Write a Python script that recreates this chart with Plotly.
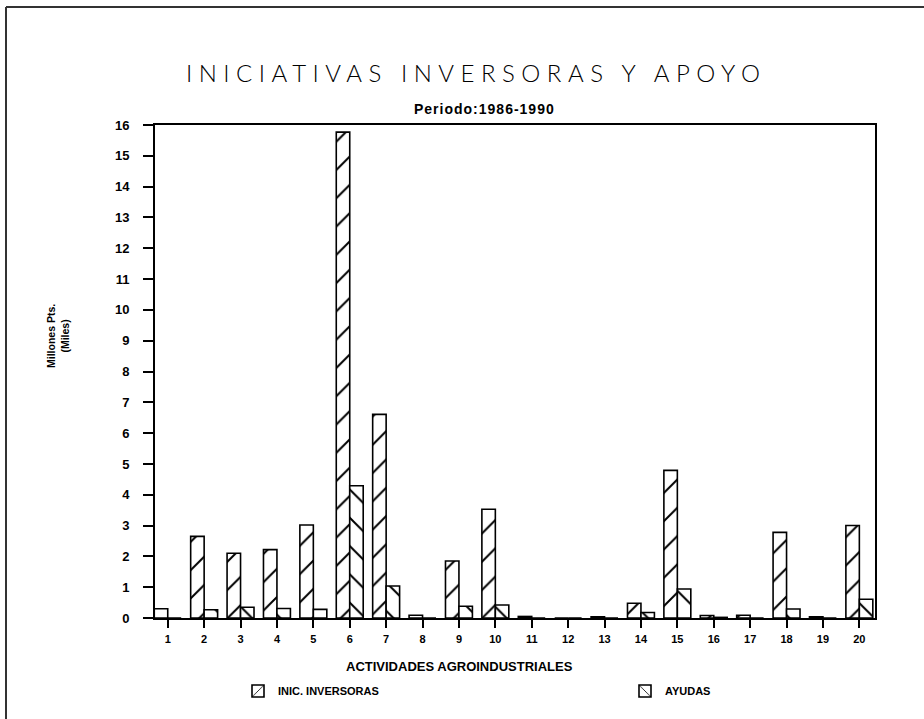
import plotly.graph_objects as go

categories = list(range(1, 21))
inic_inversoras = [0.30, 2.65, 2.10, 2.22, 3.02, 15.77, 6.61, 0.09, 1.85, 3.53,
                   0.05, 0.0, 0.04, 0.48, 4.79, 0.08, 0.09, 2.78, 0.04, 3.00]
ayudas = [0.0, 0.27, 0.35, 0.31, 0.28, 4.29, 1.04, 0.0, 0.38, 0.42,
          0.0, 0.0, 0.0, 0.18, 0.94, 0.02, 0.0, 0.29, 0.0, 0.61]
y_ticks = list(range(0, 17))

W, H = 924, 719
L, R, T, B = 155, 49, 125, 101
pw, ph = W - L - R, H - T - B


def px(x):
    return (x - L) / pw


def py(y):
    return (H - B - y) / ph


fig = go.Figure()
fig.add_trace(go.Bar(
    x=categories, y=inic_inversoras, name="INIC. INVERSORAS",
    marker=dict(color="white", line=dict(color="black", width=1.6),
                pattern=dict(shape="/", fgcolor="black", bgcolor="white",
                             size=20, solidity=0.1, fillmode="replace")),
    legend="legend",
))
fig.add_trace(go.Bar(
    x=categories, y=ayudas, name="AYUDAS",
    marker=dict(color="white", line=dict(color="black", width=1.6),
                pattern=dict(shape="\\", fgcolor="black", bgcolor="white",
                             size=20, solidity=0.1, fillmode="replace")),
    legend="legend2",
))

tick_font = dict(family="Liberation Sans, Arial", size=13, color="black", weight="bold")
legend_font = dict(family="Liberation Sans, Arial", size=11, color="black", weight="bold")

fig.update_layout(
    width=W, height=H,
    margin=dict(l=L, r=R, t=T, b=B),
    paper_bgcolor="white", plot_bgcolor="white",
    barmode="group", bargap=0.26, bargroupgap=0.0,
    xaxis=dict(range=[0.65, 20.43], tickvals=categories,
               ticktext=[str(c) for c in categories],
               showgrid=False, zeroline=False,
               showline=True, linecolor="black", linewidth=2, mirror=True,
               ticks="outside", ticklen=8, tickwidth=1.5, tickcolor="black",
               ticklabelstandoff=2,
               tickfont=dict(family="Liberation Sans, Arial", size=11,
                             color="black", weight="bold")),
    yaxis=dict(range=[0, 16], tickvals=y_ticks,
               showgrid=False, zeroline=False,
               showline=True, linecolor="black", linewidth=2, mirror=True,
               ticks="outside", ticklen=10, tickwidth=1.5, tickcolor="black",
               ticklabelstandoff=11, tickfont=tick_font),
    showlegend=True,
    legend=dict(orientation="h", x=px(238), y=py(691), xanchor="left",
                yanchor="middle", bgcolor="rgba(0,0,0,0)", font=legend_font),
    legend2=dict(orientation="h", x=px(625), y=py(691), xanchor="left",
                 yanchor="middle", bgcolor="rgba(0,0,0,0)", font=legend_font),
    annotations=[
        dict(text='<span style="letter-spacing:6.5px">INICIATIVAS INVERSORAS Y APOYO</span>',
             x=px(476), y=py(72), xref="paper", yref="paper",
             showarrow=False, xanchor="center", yanchor="middle",
             font=dict(family="Lato, DejaVu Sans", size=24, color="#000000", weight=300)),
        dict(text='<span style="letter-spacing:1px">Periodo:1986-1990</span>',
             x=px(484), y=py(109), xref="paper", yref="paper",
             showarrow=False, xanchor="center", yanchor="middle",
             font=dict(family="Liberation Sans, Arial", size=14, color="black", weight="bold")),
        dict(text="ACTIVIDADES AGROINDUSTRIALES",
             x=px(459), y=py(666), xref="paper", yref="paper",
             showarrow=False, xanchor="center", yanchor="middle",
             font=dict(family="Liberation Sans Narrow, Liberation Sans, Arial", size=13,
                       color="black", weight="bold")),
        dict(text="Millones Pts.<br>(Miles)",
             x=px(58), y=py(336), xref="paper", yref="paper",
             showarrow=False, xanchor="center", yanchor="middle", textangle=-90,
             font=dict(family="Liberation Sans Narrow, Liberation Sans, Arial", size=10.5,
                       color="black", weight="bold")),
    ],
    shapes=[
        dict(type="line", xref="paper", yref="paper",
             x0=px(6), x1=px(6), y0=py(7), y1=py(719),
             line=dict(color="#333", width=2)),
        dict(type="line", xref="paper", yref="paper",
             x0=px(6), x1=px(924), y0=py(7), y1=py(7),
             line=dict(color="#333", width=2)),
    ],
)

fig.write_html(
    "out.html",
    config={"displayModeBar": False},
    post_script="document.body.style.margin='0';document.body.style.overflow='hidden';",
)
